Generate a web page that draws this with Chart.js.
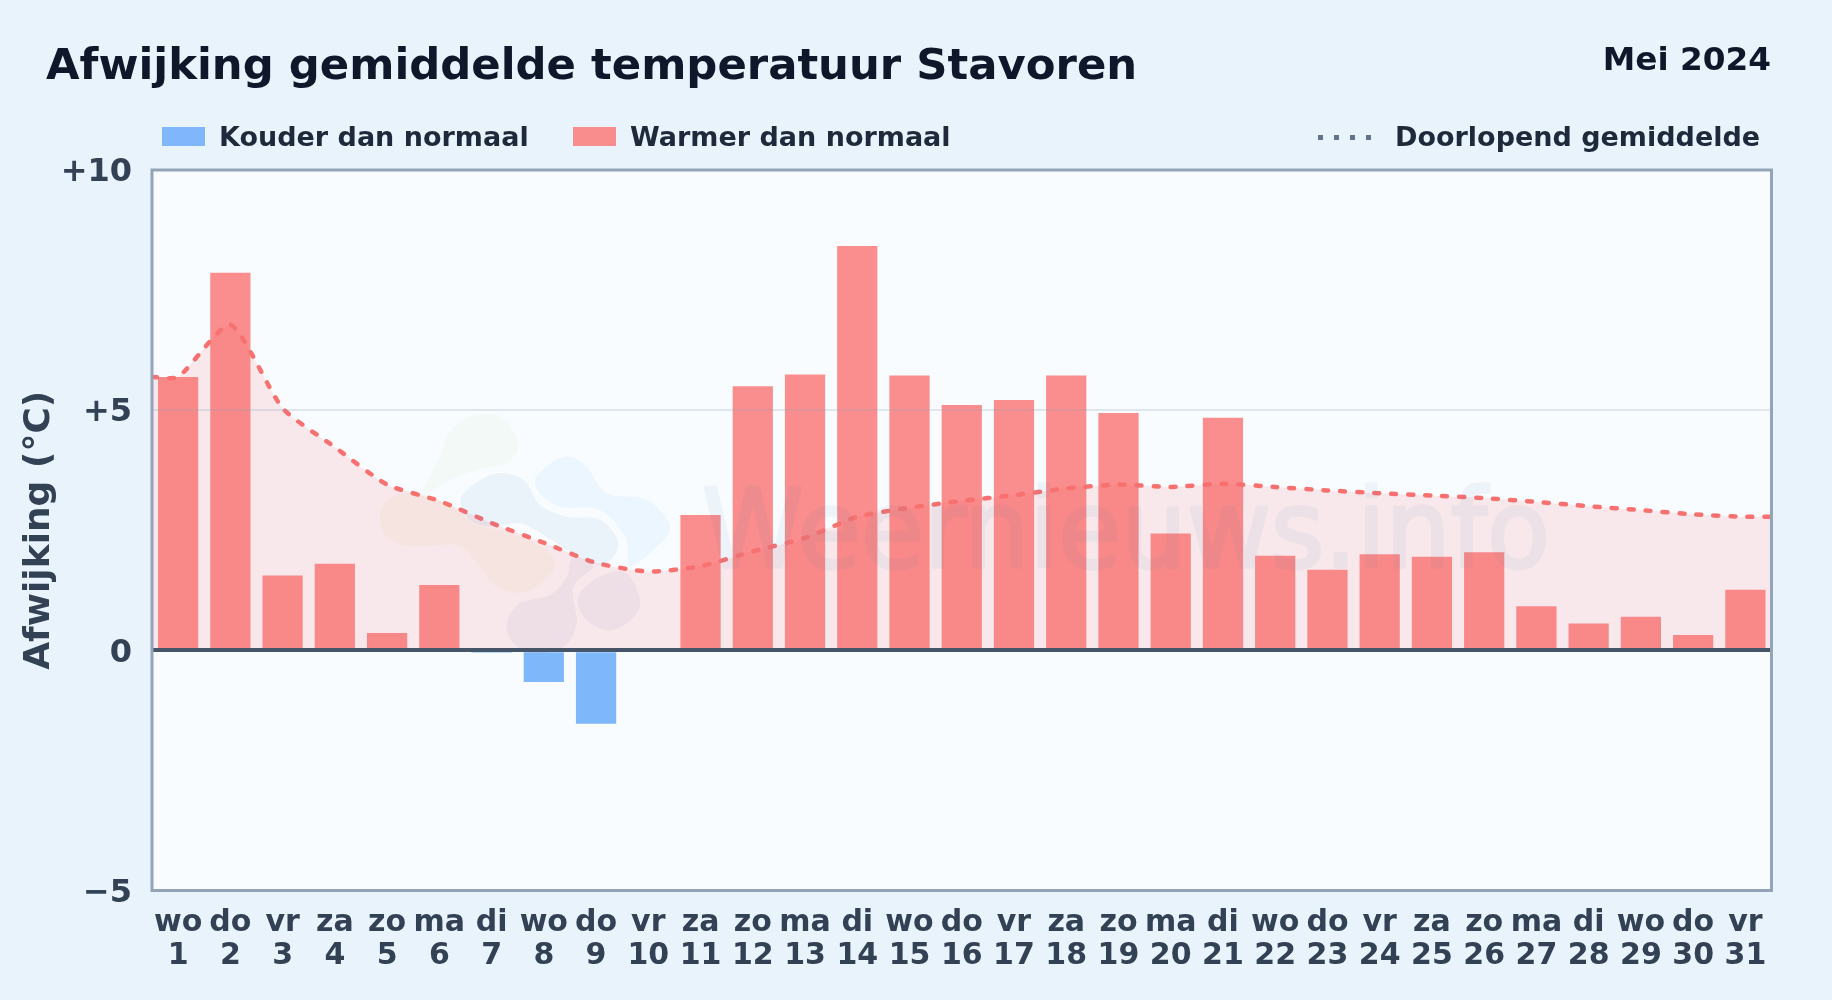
<!DOCTYPE html>
<html lang="nl">
<head>
<meta charset="utf-8">
<title>Afwijking gemiddelde temperatuur Stavoren</title>
<script src="https://cdn.jsdelivr.net/npm/chart.js@4/dist/chart.umd.min.js"></script>
<style>
html,body{margin:0;padding:0;width:1832px;height:1000px;overflow:hidden;background:#e8f3fc;font-family:"DejaVu Sans",sans-serif;font-weight:700}
#wrap{position:relative;width:1832px;height:1000px}
canvas{position:absolute;left:0;top:0}
.t{position:absolute;white-space:nowrap;line-height:1}
#title{left:46px;top:43px;font-size:43.35px;color:#0f172a}
#month{right:61px;top:43px;font-size:32.7px;color:#0f172a}
.lg{top:123px;font-size:27px;color:#1e293b}
.sw{position:absolute;top:127px;width:43px;height:19px}
#dots{position:absolute;left:1318px;top:135px;width:56px;height:5px;background:repeating-linear-gradient(90deg,#64748b 0 5px,transparent 5px 16px)}
</style>
</head>
<body>
<div id="wrap">
<canvas id="c" width="1832" height="1000"></canvas>
<div class="t" id="title">Afwijking gemiddelde temperatuur Stavoren</div>
<div class="t" id="month">Mei 2024</div>
<div class="sw" style="left:162px;background:#80b6fb"></div>
<div class="t lg" style="left:219px">Kouder dan normaal</div>
<div class="sw" style="left:573px;background:#f98d8d"></div>
<div class="t lg" style="left:630px">Warmer dan normaal</div>
<div id="dots"></div>
<div class="t lg" style="left:1395px">Doorlopend gemiddelde</div>
</div>
<script>
const weekdays = ["wo","do","vr","za","zo","ma","di","wo","do","vr","za","zo","ma","di","wo","do","vr","za","zo","ma","di","wo","do","vr","za","zo","ma","di","wo","do","vr"];
const days = [1,2,3,4,5,6,7,8,9,10,11,12,13,14,15,16,17,18,19,20,21,22,23,24,25,26,27,28,29,30,31];
const deviation = [5.69,7.86,1.56,1.80,0.36,1.36,-0.05,-0.66,-1.53,0.0,2.82,5.50,5.74,8.42,5.72,5.11,5.21,5.72,4.94,2.43,4.84,1.97,1.68,2.00,1.95,2.04,0.92,0.56,0.70,0.32,1.26];
const runningMean = [5.69,6.78,5.04,4.23,3.45,3.11,2.65,2.24,1.82,1.64,1.75,2.06,2.34,2.78,2.97,3.11,3.23,3.37,3.45,3.40,3.47,3.40,3.33,3.27,3.22,3.17,3.09,3.00,2.92,2.83,2.78];
const yTickLabels = {"-5":"\u22125","0":"0","5":"+5","10":"+10"};

const fg = "#334155", fam = '"DejaVu Sans", sans-serif';

function blob(ctx, pts, color){
  const n = pts.length;
  ctx.beginPath();
  ctx.moveTo(pts[0][0], pts[0][1]);
  for(let i=0;i<n;i++){
    const p0=pts[(i-1+n)%n],p1=pts[i],p2=pts[(i+1)%n],p3=pts[(i+2)%n];
    ctx.bezierCurveTo(p1[0]+(p2[0]-p0[0])/6,p1[1]+(p2[1]-p0[1])/6,p2[0]-(p3[0]-p1[0])/6,p2[1]-(p3[1]-p1[1])/6,p2[0],p2[1]);
  }
  ctx.closePath();
  ctx.fillStyle=color;
  ctx.fill();
}

const plotBackground = {
  id:"plotBackground",
  beforeDraw(chart){
    const {ctx,chartArea:a}=chart;
    ctx.save();
    ctx.fillStyle="#f8fcff";
    ctx.fillRect(a.left,a.top,a.width,a.height);
    ctx.restore();
  }
};
const watermark = {
  id:"watermark",
  afterDatasetsDraw(chart){
    const {ctx}=chart;
    const off=document.createElement("canvas");
    off.width=1000;off.height=160;
    const o=off.getContext("2d");
    o.font='108px '+fam;
    o.fillStyle=o.strokeStyle="rgb(60,113,167)";
    o.lineWidth=3.5;o.lineJoin="round";
    o.scale(0.952,1);
    o.fillText("Weernieuws.info",2,120);
    o.strokeText("Weernieuws.info",2,120);
    ctx.save();
    ctx.globalAlpha=0.055;
    ctx.drawImage(off,700,447);
    ctx.globalAlpha=1;
    ctx.translate(360,390);
    ctx.scale(1/3,1/3);
    blob(ctx,[[265,130],[330,80],[420,80],[475,160],[440,220],[350,240],[270,270],[190,310],[240,200]],"rgba(134,190,100,0.05)");
    blob(ctx,[[60,370],[100,320],[180,310],[270,345],[340,400],[450,430],[560,480],[580,540],[500,605],[410,590],[350,520],[290,465],[160,470],[80,440]],"rgba(225,170,60,0.06)");
    blob(ctx,[[305,320],[400,252],[490,270],[540,345],[620,380],[720,390],[775,460],[730,525],[640,490],[560,440],[480,400],[400,410],[330,390]],"rgba(50,110,180,0.065)");
    blob(ctx,[[530,260],[610,200],[680,230],[740,310],[860,330],[930,410],[880,480],[810,525],[795,440],[720,360],[600,350],[540,310]],"rgba(56,160,235,0.065)");
    blob(ctx,[[440,700],[480,640],[570,615],[620,560],[640,500],[700,530],[640,590],[650,700],[610,770],[520,790],[460,760]],"rgba(70,90,140,0.06)");
    blob(ctx,[[655,620],[720,560],[800,550],[840,650],[760,720],[680,690]],"rgba(70,90,140,0.06)");
    ctx.restore();
  }
};
const frame = {
  id:"frame",
  afterDraw(chart){
    const {ctx,chartArea:a}=chart;
    ctx.save();
    ctx.strokeStyle="#94a3b8";
    ctx.lineWidth=3;
    ctx.strokeRect(a.left,a.top,a.width,a.height);
    ctx.restore();
  }
};

new Chart(document.getElementById("c"),{
  type:"bar",
  data:{
    labels:days.map((d,i)=>[weekdays[i],String(d)]),
    datasets:[
      {
        type:"line",
        label:"Doorlopend gemiddelde",
        xAxisID:"x2",
        order:0,
        data:[{x:0.5,y:runningMean[0]},...days.map((d,i)=>({x:d,y:runningMean[i]})),{x:31.5,y:runningMean[30]}],
        borderColor:"#f87171",
        borderWidth:4.5,
        borderDash:[5,12],
        borderCapStyle:"round",
        tension:0.2,
        pointRadius:0,
        fill:"origin",
        backgroundColor:"rgba(250,113,113,0.14)"
      },
      {
        type:"bar",
        label:"Afwijking",
        xAxisID:"x",
        order:1,
        grouped:false,
        data:deviation,
        backgroundColor:deviation.map(v=>v<0?"rgba(96,165,250,0.8)":"rgba(250,113,113,0.8)"),
        borderWidth:0,
        categoryPercentage:0.77,
        barPercentage:1
      }
    ]
  },
  options:{
    responsive:false,
    animation:false,
    devicePixelRatio:1,
    layout:{padding:{top:170,right:60.5,left:0,bottom:0}},
    plugins:{legend:{display:false},title:{display:false},tooltip:{enabled:false}},
    scales:{
      x:{
        type:"category",
        offset:true,
        grid:{display:false},
        border:{display:false},
        afterFit(s){s.height=109.5;},
        ticks:{color:fg,font:{family:fam,size:30,weight:"bold",lineHeight:1.1},maxRotation:0,minRotation:0,autoSkip:false,padding:8}
      },
      x2:{type:"linear",display:false,offset:false,min:0.5,max:31.5},
      y:{
        min:-5,max:10,
        afterFit(s){s.width=152;},
        border:{display:false},
        grid:{
          z:1,
          drawTicks:false,
          lineWidth:c=>c.tick&&c.tick.value===0?4:2,
          color:c=>{
            const v=c.tick&&c.tick.value;
            if(v===0) return "#475569";
            if(v===5) return "rgba(148,163,184,0.25)";
            return "rgba(0,0,0,0)";
          }
        },
        title:{display:true,text:"Afwijking (\u00b0C)",color:fg,font:{family:fam,size:36,weight:"bold"},padding:{top:18,bottom:0}},
        ticks:{stepSize:5,color:fg,padding:20,labelOffset:3,font:{family:fam,size:32,weight:"bold"},callback:v=>yTickLabels[String(v)]}
      }
    }
  },
  plugins:[plotBackground,watermark,frame]
});
</script>
</body>
</html>
